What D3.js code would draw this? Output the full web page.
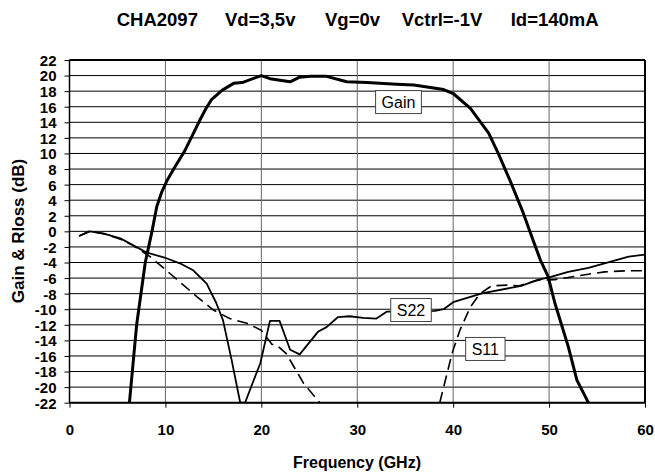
<!DOCTYPE html>
<html><head><meta charset="utf-8">
<script src="https://cdn.jsdelivr.net/npm/d3@7"></script>
<style>
body{margin:0;background:#fff}
svg{display:block}
text{font-family:"Liberation Sans",Arial,sans-serif}
</style>
</head><body>
<svg id="c" width="655" height="475"></svg>
<script>
// ---- data ----
const titleParts = ["CHA2097", "Vd=3,5v", "Vg=0v", "Vctrl=-1V", "Id=140mA"];
const xLabel = "Frequency (GHz)";
const yLabel = "Gain & Rloss (dB)";
const xTicks = [0, 10, 20, 30, 40, 50, 60];
const yTicks = [-22,-20,-18,-16,-14,-12,-10,-8,-6,-4,-2,0,2,4,6,8,10,12,14,16,18,20,22];

const gainFreq = [6.25,7.0,7.9,8.6,9.1,9.6,10.2,11.0,12.0,12.8,13.6,14.2,14.8,15.9,17.1,18.0,20.0,20.9,23.0,24.0,25.1,26.8,28.9,31.0,34.1,35.9,39.0,40.0,41.8,43.7,44.7,45.9,47.2,48.2,49.1,49.9,50.6,52.0,52.9,54.1];
const gainDb   = [-22,-12,-4,0,3.2,5.0,6.6,8.3,10.3,12.3,14.3,15.7,16.9,18.1,19.0,19.1,20.0,19.6,19.2,19.8,19.9,19.9,19.2,19.1,18.9,18.8,18.2,17.7,15.8,12.6,10.0,6.6,2.7,-0.7,-3.7,-5.8,-9.2,-14.8,-19.1,-22];

const s22Freq = [1.0,2.1,3.5,5.3,6.6,8.0,10.1,11.5,12.9,14.3,15.3,16.0,16.9,17.8,18.3,19.9,20.9,21.9,23.0,24.0,25.9,26.8,28.0,29.2,30.6,32.0,33.1,35.6,38.1,39.0,40.0,43.0,47.1,48.9,50.0,52.0,54.1,55.5,58.3,60.0];
const s22Db   = [-0.6,0.0,-0.25,-0.9,-1.75,-2.7,-3.45,-4.1,-5.0,-6.7,-9.2,-11.4,-16.5,-22,-22,-16.9,-11.5,-11.5,-15.2,-15.8,-12.9,-12.3,-11.0,-10.9,-11.1,-11.2,-10.3,-10.3,-10.2,-10.0,-9.1,-7.95,-7.0,-6.2,-5.9,-5.2,-4.7,-4.2,-3.25,-3.0];

const s11Freq = [1.0,2.1,3.5,5.3,6.6,8.4,9.8,11.5,13.3,15.0,16.7,18.5,20.0,21.1,21.6,22.6,24.4,26.1,32.0,38.6,39.9,40.7,41.8,42.8,44.0,45.6,46.9,48.7,50.6,54.1,55.8,58.3,60.0];
const s11Db   = [-0.6,0.0,-0.3,-1.0,-1.8,-3.25,-4.7,-6.5,-8.4,-10.1,-11.2,-11.8,-12.7,-14.5,-14.6,-15.7,-19.5,-22,null,-22,-15.6,-12.7,-9.7,-8.0,-7.0,-6.9,-7.0,-6.3,-6.2,-5.5,-5.2,-5.05,-5.05];

const annLabels = ["Gain", "S22", "S11"];
const annFreq   = [34.3, 35.6, 43.35];
const annDb     = [16.6, -10.1, -15.1];

// ---- chart ----
const svg = d3.select("#c");
svg.append("rect").attr("width",655).attr("height",475).attr("fill","#fff");

const x = d3.scaleLinear().domain([0,60]).range([69.5,645]);
const y = d3.scaleLinear().domain([-22,22]).range([402.7,60]);

// horizontal grid
svg.append("g").selectAll("line").data(yTicks).join("line")
  .attr("x1",x(0)).attr("x2",x(60))
  .attr("y1",d=>y(d)).attr("y2",d=>y(d))
  .attr("stroke","#000").attr("stroke-width",1);
// vertical grid
svg.append("g").selectAll("line").data(xTicks.slice(1,-1)).join("line")
  .attr("x1",d=>x(d)).attr("x2",d=>x(d))
  .attr("y1",y(22)).attr("y2",y(-22))
  .attr("stroke","#666").attr("stroke-width",1);

// clip
svg.append("clipPath").attr("id","clip").append("rect")
  .attr("x",x(0)).attr("y",y(22)).attr("width",x(60)-x(0)).attr("height",y(-22)-y(22));

const line = d3.line().defined(d=>d[1]!==null).x(d=>x(d[0])).y(d=>y(d[1]));
const zip = (a,b)=>a.map((v,i)=>[v,b[i]]);

const series = svg.append("g").attr("clip-path","url(#clip)");
series.append("path").datum(zip(s11Freq,s11Db)).attr("d",line)
  .attr("fill","none").attr("stroke","#000").attr("stroke-width",1.6).attr("stroke-dasharray","11,6");
series.append("path").datum(zip(s22Freq,s22Db)).attr("d",line)
  .attr("fill","none").attr("stroke","#000").attr("stroke-width",1.8).attr("stroke-linejoin","round");
series.append("path").datum(zip(gainFreq,gainDb)).attr("d",line)
  .attr("fill","none").attr("stroke","#000").attr("stroke-width",3).attr("stroke-linejoin","round");

// frame
svg.append("line").attr("x1",x(0)).attr("x2",x(60)).attr("y1",y(22)).attr("y2",y(22)).attr("stroke","#000").attr("stroke-width",2);
svg.append("line").attr("x1",x(60)).attr("x2",x(60)).attr("y1",y(22)).attr("y2",y(-22)).attr("stroke","#000").attr("stroke-width",2);
svg.append("line").attr("x1",x(0)).attr("x2",x(60)).attr("y1",y(-22)).attr("y2",y(-22)).attr("stroke","#000").attr("stroke-width",2);
svg.append("line").attr("x1",x(0)).attr("x2",x(0)).attr("y1",y(22)).attr("y2",y(-22)).attr("stroke","#000").attr("stroke-width",1.5);

// axes
const xAxis = svg.append("g").attr("transform",`translate(0,${y(-22)})`)
  .call(d3.axisBottom(x).tickValues(xTicks).tickSize(5).tickPadding(17).tickFormat(d3.format("d")));
const yAxis = svg.append("g").attr("transform",`translate(${x(0)},0)`)
  .call(d3.axisLeft(y).tickValues(yTicks).tickSize(5).tickPadding(8).tickFormat(d3.format("d")));
[xAxis,yAxis].forEach(a=>{
  a.select(".domain").remove();
  a.selectAll(".tick line").attr("stroke","#000").attr("stroke-width",1);
  a.selectAll("text").attr("font-family","Liberation Sans, Arial, sans-serif")
    .attr("font-size",15).attr("font-weight","bold").attr("fill","#000");
});
yAxis.selectAll("text").text(d=>d<0?"-"+Math.abs(d):d).attr("dy","0.36em");

// titles
const titleX = [116.7, 225, 325, 401.7, 510.7];
svg.append("g").selectAll("text").data(titleParts).join("text")
  .attr("x",(d,i)=>titleX[i]).attr("y",25.5)
  .attr("font-size",18.5).attr("font-weight","bold").text(d=>d);

svg.append("text").attr("x",357).attr("y",468).attr("text-anchor","middle")
  .attr("font-size",16).attr("font-weight","bold").text(xLabel);
svg.append("text").attr("transform","translate(24,231) rotate(-90)").attr("text-anchor","middle")
  .attr("font-size",17).attr("font-weight","bold").text(yLabel);

// annotations
const ann = svg.append("g").selectAll("g").data(annLabels).join("g")
  .attr("transform",(d,i)=>`translate(${x(annFreq[i])},${y(annDb[i])})`);
ann.append("text").attr("text-anchor","middle").attr("dy","0.36em")
  .attr("font-size",16).text(d=>d);
ann.each(function(){
  const g=d3.select(this); const b=g.select("text").node().getBBox();
  g.insert("rect","text").attr("x",b.x-6).attr("y",-11.5).attr("width",b.width+12).attr("height",23)
   .attr("fill","#fff").attr("stroke","#444").attr("stroke-width",1);
});
</script>
</body></html>
